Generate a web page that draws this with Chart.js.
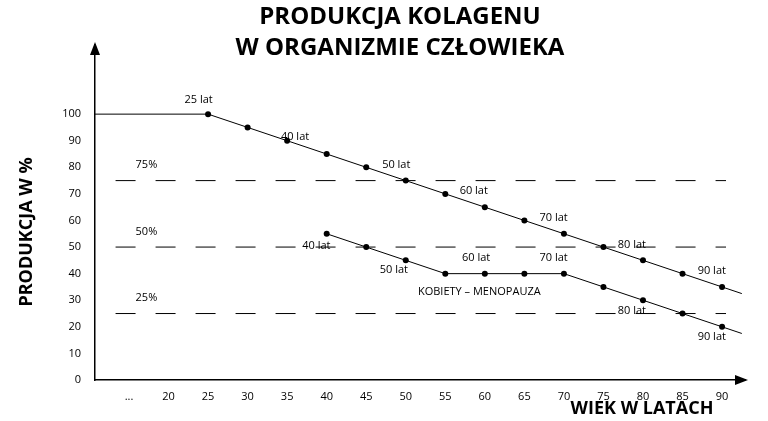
<!DOCTYPE html>
<html><head><meta charset="utf-8">
<script src="https://cdn.jsdelivr.net/npm/chart.js@4/dist/chart.umd.min.js"></script>
<style>html,body{margin:0;background:#fff}#w{width:768px;height:421px}</style>
</head><body><div id="w"><canvas id="c"></canvas></div>
<script>
const titleLines = ['PRODUKCJA KOLAGENU', 'W ORGANIZMIE CZŁOWIEKA'];
const yTitle = 'PRODUKCJA W %';
const xTitle = 'WIEK W LATACH';
const agesAll = [10.7, 25, 30, 35, 40, 45, 50, 55, 60, 65, 70, 75, 80, 85, 90, 92.5];
const allValues = [100, 100, 95, 90, 85, 80, 75, 70, 65, 60, 55, 50, 45, 40, 35, 32.5];
const agesWomen = [40, 45, 50, 55, 60, 65, 70, 75, 80, 85, 90, 92.5];
const womenValues = [55, 50, 45, 40, 40, 40, 40, 35, 30, 25, 20, 17.5];
const refLevels = [75, 50, 25];
const xTickValues = [15, 20, 25, 30, 35, 40, 45, 50, 55, 60, 65, 70, 75, 80, 85, 90];
const xTickLabels = ['...', '20', '25', '30', '35', '40', '45', '50', '55', '60', '65', '70', '75', '80', '85', '90'];
const notes = [
 [23.8,105.3,'25 lat'],[36,91.3,'40 lat'],[48.8,80.8,'50 lat'],[58.6,71.3,'60 lat'],[68.7,61.1,'70 lat'],[78.6,50.9,'80 lat'],[88.7,41.1,'90 lat'],
 [38.7,50.6,'40 lat'],[48.5,41.5,'50 lat'],[58.9,46,'60 lat'],[68.7,46,'70 lat'],[78.6,26,'80 lat'],[88.7,16.2,'90 lat'],
 [59.3,33.2,'KOBIETY – MENOPAUZA'],[17.2,81.1,'75%'],[17.2,55.8,'50%'],[17.2,30.9,'25%']
];
const pts = (xs, ys) => xs.map((x,i)=>({x, y: ys[i]}));
const radii = xs => xs.map(x => (x>=25 && x<=90) ? 3 : 0);
const datasets = [
 {data: pts(agesAll, allValues), pointRadius: radii(agesAll)},
 {data: pts(agesWomen, womenValues), pointRadius: radii(agesWomen)}
].map(d=>Object.assign(d,{borderColor:'#000',backgroundColor:'#000',borderWidth:1,pointBorderWidth:0,tension:0}));
refLevels.forEach(v=>datasets.push({data:[{x:13.3,y:v},{x:90.5,y:v}],borderColor:'#000',borderWidth:1,borderDash:[20,20],pointRadius:0}));

const deco = {
 id:'deco',
 afterDraw(ch){
  const c=ch.ctx, xs=ch.scales.x, ys=ch.scales.y, a=ch.chartArea;
  c.save();
  c.fillStyle='#000'; c.strokeStyle='#000';
  c.font='11px "Open Sans"'; c.textAlign='center'; c.textBaseline='middle';
  notes.forEach(n=>c.fillText(n[2], xs.getPixelForValue(n[0]), ys.getPixelForValue(n[1])));
  c.beginPath(); c.moveTo(a.left-5,a.top+10); c.lineTo(a.left,a.top-3); c.lineTo(a.left+5,a.top+10); c.closePath(); c.fill();
  c.beginPath(); c.moveTo(a.right-10,a.bottom-5); c.lineTo(a.right+3,a.bottom); c.lineTo(a.right-10,a.bottom+5); c.closePath(); c.fill();
  c.font='bold 24px "Open Sans"';
  c.fillText(titleLines[0],400,17); c.fillText(titleLines[1],400,48);
  c.font='bold 18px "Open Sans"';
  c.fillText(xTitle,642,409);
  c.translate(27,232); c.rotate(-Math.PI/2); c.fillText(yTitle,0,0);
  c.restore();
 }
};

new Chart(document.getElementById('c'),{
 type:'line',
 data:{datasets},
 plugins:[deco],
 options:{
  responsive:true, maintainAspectRatio:false, animation:false,
  layout:{padding:{top:45,right:23,left:0,bottom:0}},
  plugins:{legend:{display:false},tooltip:{enabled:false}},
  scales:{
   x:{type:'linear',min:10.7,max:92.9,
      grid:{display:false},border:{color:'#000',width:1.5},
      afterBuildTicks(s){s.ticks=xTickValues.map(v=>({value:v}));},
      afterFit(s){s.height=41;},
      ticks:{color:'#000',font:{size:11,family:'Open Sans'},padding:2,autoSkip:false,maxRotation:0,
        callback:v=>{const i=xTickValues.indexOf(v);return i<0?'':xTickLabels[i];}}},
   y:{min:0,max:126,
      grid:{display:false},border:{color:'#000',width:1.5},
      afterBuildTicks(s){s.ticks=[0,10,20,30,40,50,60,70,80,90,100].map(v=>({value:v}));},
      afterFit(s){s.width=95;},
      ticks:{color:'#000',font:{size:11,family:'Open Sans'},padding:6}}
  }
 }
});
</script></body></html>
